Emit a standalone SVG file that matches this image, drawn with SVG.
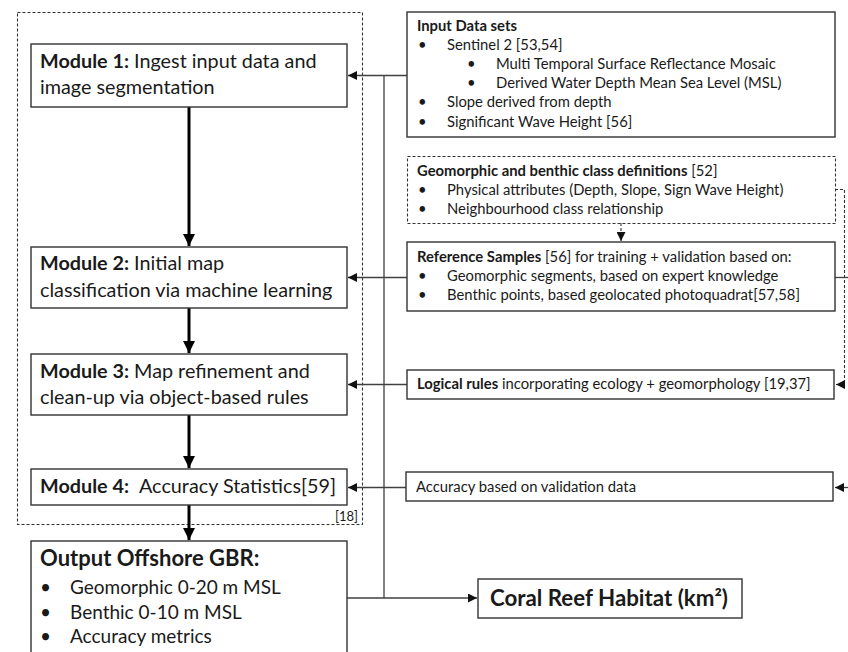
<svg xmlns="http://www.w3.org/2000/svg" width="848" height="652" viewBox="0 0 848 652">
<defs>
<marker id="ah" viewBox="0 0 10 10" refX="10" refY="5" markerWidth="9" markerHeight="9" markerUnits="userSpaceOnUse" orient="auto"><path d="M0,0 L10,5 L0,10 z" fill="#111"/></marker>
<marker id="ahb" viewBox="0 0 10 10" refX="10" refY="5" markerWidth="12" markerHeight="12" markerUnits="userSpaceOnUse" orient="auto"><path d="M0,0 L10,5 L0,10 z" fill="#000"/></marker>
</defs>
<style>
text{font-family:Lato,"Liberation Sans",sans-serif;fill:#1a1a1a}
.box{fill:#fff;stroke:#333;stroke-width:1.4}
.dbox{fill:none;stroke:#333;stroke-width:1.1;stroke-dasharray:3,2}
.mod{font-size:19.8px}
.sm{font-size:14.8px}
.b{font-weight:bold}
.ln{fill:none;stroke:#404040;stroke-width:1.3}
.thick{fill:none;stroke:#000;stroke-width:3}
.dl{fill:none;stroke:#333;stroke-width:1.1;stroke-dasharray:3,2}
</style>
<g id="frame"><rect class="dbox" x="17.5" y="12.5" width="345" height="512"/><text x="335" y="521" style="font-size:13px">[18]</text></g>
<g id="connectors">
<line class="thick" x1="189" y1="107" x2="189" y2="246" marker-end="url(#ahb)"/>
<line class="thick" x1="189" y1="308" x2="189" y2="353" marker-end="url(#ahb)"/>
<line class="thick" x1="189" y1="415" x2="189" y2="468" marker-end="url(#ahb)"/>
<line class="thick" x1="189" y1="505" x2="189" y2="540" marker-end="url(#ahb)"/>
<line class="ln" x1="407" y1="75.5" x2="348" y2="75.5" marker-end="url(#ah)"/>
<line class="ln" x1="407" y1="277.5" x2="348" y2="277.5" marker-end="url(#ah)"/>
<line class="ln" x1="407" y1="384.5" x2="348" y2="384.5" marker-end="url(#ah)"/>
<line class="ln" x1="406" y1="487.5" x2="348" y2="487.5" marker-end="url(#ah)"/>
<line class="ln" x1="384" y1="75.5" x2="384" y2="598"/>
<line class="ln" x1="347" y1="598" x2="477" y2="598" marker-end="url(#ah)"/>
<line class="dl" x1="621" y1="223" x2="621" y2="241" marker-end="url(#ah)"/>
<polyline class="dl" points="835,189.5 844.5,189.5 844.5,384.5 836,384.5" marker-end="url(#ah)"/>
<line class="ln" x1="835" y1="277.5" x2="848" y2="277.5"/>
<line class="ln" x1="848" y1="487.5" x2="835" y2="487.5" marker-end="url(#ah)"/>
</g>
<g id="module1"><rect class="box" x="31" y="44" width="316" height="63"/><text class="mod" x="40" y="68"><tspan class="b">Module 1:</tspan> Ingest input data and</text><text class="mod" x="40" y="94">image segmentation</text></g>
<g id="module2"><rect class="box" x="31" y="247" width="316" height="61"/><text class="mod" x="40" y="270"><tspan class="b">Module 2:</tspan> Initial map</text><text class="mod" x="40" y="297">classification via machine learning</text></g>
<g id="module3"><rect class="box" x="31" y="354" width="316" height="61"/><text class="mod" x="40" y="378"><tspan class="b">Module 3:</tspan> Map refinement and</text><text class="mod" x="40" y="404">clean-up via object-based rules</text></g>
<g id="module4"><rect class="box" x="31" y="469" width="316" height="36"/><text class="mod" x="40" y="493"><tspan class="b">Module 4:</tspan><tspan x="139">Accuracy Statistics[59]</tspan></text></g>
<g id="output"><rect class="box" x="31" y="541" width="316" height="120"/><text x="40" y="566" class="b" style="font-size:22px">Output Offshore GBR:</text>
<text style="font-size:19px" x="40" y="594">•</text><text style="font-size:19px" x="70" y="594">Geomorphic 0-20 m MSL</text>
<text style="font-size:19px" x="40" y="619">•</text><text style="font-size:19px" x="70" y="619">Benthic 0-10 m MSL</text>
<text style="font-size:19px" x="40" y="643">•</text><text style="font-size:19px" x="70" y="643">Accuracy metrics</text></g>
<g id="coral"><rect class="box" x="478" y="579" width="264" height="39"/><text x="490" y="606" class="b" style="font-size:22.3px">Coral Reef Habitat (km²)</text></g>
<g id="input"><rect class="box" x="407" y="12" width="428" height="125"/>
<text class="sm b" x="417" y="31">Input Data sets</text>
<text class="sm" x="418" y="50">•</text><text class="sm" x="447" y="50">Sentinel 2 [53,54]</text>
<text class="sm" x="467" y="69">•</text><text class="sm" x="496" y="69">Multi Temporal Surface Reflectance Mosaic</text>
<text class="sm" x="467" y="88">•</text><text class="sm" x="496" y="88">Derived Water Depth Mean Sea Level (MSL)</text>
<text class="sm" x="418" y="107">•</text><text class="sm" x="447" y="107">Slope derived from depth</text>
<text class="sm" x="418" y="127">•</text><text class="sm" x="447" y="127">Significant Wave Height [56]</text></g>
<g id="classdefs"><rect class="dbox" x="407.5" y="156.5" width="428" height="67"/>
<text class="sm" x="417" y="176"><tspan class="b">Geomorphic and benthic class definitions</tspan> [52]</text>
<text class="sm" x="418" y="195">•</text><text class="sm" x="447" y="195">Physical attributes (Depth, Slope, Sign Wave Height)</text>
<text class="sm" x="418" y="214">•</text><text class="sm" x="447" y="214">Neighbourhood class relationship</text></g>
<g id="refsamples"><rect class="box" x="407" y="242" width="428" height="69"/>
<text class="sm" x="417" y="262"><tspan class="b">Reference Samples</tspan> [56] for training + validation based on:</text>
<text class="sm" x="418" y="281">•</text><text class="sm" x="447" y="281">Geomorphic segments, based on expert knowledge</text>
<text class="sm" x="418" y="300">•</text><text class="sm" x="447" y="300">Benthic points, based geolocated photoquadrat[57,58]</text></g>
<g id="logical"><rect class="box" x="407" y="370" width="427" height="29"/><text class="sm" x="417" y="389"><tspan class="b">Logical rules</tspan> incorporating ecology + geomorphology [19,37]</text></g>
<g id="accuracy"><rect class="box" x="406" y="472" width="427" height="29"/><text class="sm" x="416" y="492">Accuracy based on validation data</text></g>
</svg>
